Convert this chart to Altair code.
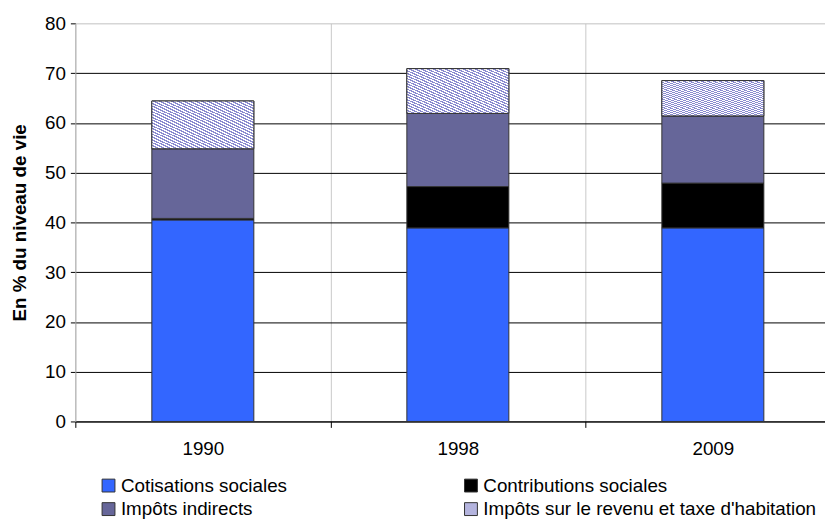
import altair as alt
import pandas as pd

years = ["1990", "1998", "2009"]
categories = [
    "Cotisations sociales",
    "Contributions sociales",
    "Impôts indirects",
    "Impôts sur le revenu et taxe d'habitation",
]
cotisations = [40.5, 38.9, 38.9]
contributions = [0.3, 8.3, 9.0]
indirects = [14.0, 14.7, 13.5]
revenu = [9.6, 9.0, 7.1]
colors = ["#3366FF", "#000000", "#666699", "#B4B4DE"]
y_ticks = [0, 10, 20, 30, 40, 50, 60, 70, 80]

series = [cotisations, contributions, indirects, revenu]
rows = []
for i, yr in enumerate(years):
    base_val = 0.0
    for k, cat in enumerate(categories):
        v = series[k][i]
        rows.append({"year": yr, "cat": cat, "order": k, "value": v,
                     "y0": base_val, "y1": base_val + v})
        base_val += v
df = pd.DataFrame(rows)

FONT = "Liberation Sans"

# diagonal hatch approximation via hard-stop gradient
N = 34
stops = []
for i in range(N):
    a = i / N
    b = (i + 0.5) / N
    c = (i + 1) / N
    stops += [
        alt.GradientStop(offset=a, color="#8a8ad0"),
        alt.GradientStop(offset=b, color="#8a8ad0"),
        alt.GradientStop(offset=b, color="#ffffff"),
        alt.GradientStop(offset=c, color="#ffffff"),
    ]
hatch_fill = alt.LinearGradient(gradient="linear", stops=stops, x1=0, y1=1, x2=1, y2=0)

x_enc = alt.X(
    "year:N",
    sort=years,
    scale=alt.Scale(range=[0, 772.5], paddingInner=0, paddingOuter=0),
    axis=alt.Axis(
        title=None,
        labelAngle=0,
        tickBand="extent",
        grid=True,
        gridColor="#c8c8c8",
        gridWidth=1,
        domainColor="black",
        domainWidth=1,
        tickColor="black",
        tickSize=6,
        labelPadding=12,
        labelFont=FONT,
        labelFontSize=19,
        labelColor="black",
    ),
)
y_axis = alt.Axis(
    title="En % du niveau de vie",
    values=y_ticks,
    grid=True,
    gridColor={"condition": {"test": "datum.value === 80", "value": "#c0c0c0"}, "value": "black"},
    gridWidth=1,
    domainColor="#b0b0b0",
    tickColor="black",
    tickSize=5,
    labelPadding=5,
    labelFont=FONT,
    labelFontSize=19,
    labelColor="black",
    titleFont=FONT,
    titleFontSize=19,
    titleFontWeight="bold",
    titleColor="black",
    titlePadding=15,
)

base = alt.Chart(df)

bars = base.mark_bar(
    width=alt.RelativeBandSize(band=0.4), stroke="#333333", strokeWidth=1
).encode(
    x=x_enc,
    y=alt.Y("y1:Q", scale=alt.Scale(domain=[0, 80], nice=False), axis=y_axis),
    y2="y0:Q",
    color=alt.Color(
        "cat:N",
        scale=alt.Scale(domain=categories, range=colors),
        legend=alt.Legend(
            title=None,
            orient="none",
            direction="horizontal",
            legendX=24,
            legendY=457,
            columns=2,
            columnPadding=176,
            rowPadding=4,
            symbolType="square",
            symbolSize=169,
            symbolStrokeColor="#333333",
            symbolStrokeWidth=1,
            labelFont=FONT,
            labelFontSize=19,
            labelColor="black",
            labelOffset=3,
            labelLimit=600,
            padding=0,
        ),
    ),
    order=alt.Order("order:Q"),
)

hatch = base.transform_filter(
    alt.datum.order == 3
).mark_bar(
    width=alt.RelativeBandSize(band=0.4), fill=hatch_fill, stroke="#333333", strokeWidth=1
).encode(
    x=alt.X("year:N", sort=years),
    y="y1:Q",
    y2="y0:Q",
)

chart = (
    alt.layer(bars, hatch)
    .properties(
        width=757,
        height=402,
        autosize=alt.AutoSizeParams(type="none"),
        padding={"left": 68, "top": 13, "right": 0, "bottom": 96},
        background="white",
    )
    .configure_view(strokeWidth=0)
)

chart.save("out.html", embed_options={"renderer": "svg", "actions": False})
